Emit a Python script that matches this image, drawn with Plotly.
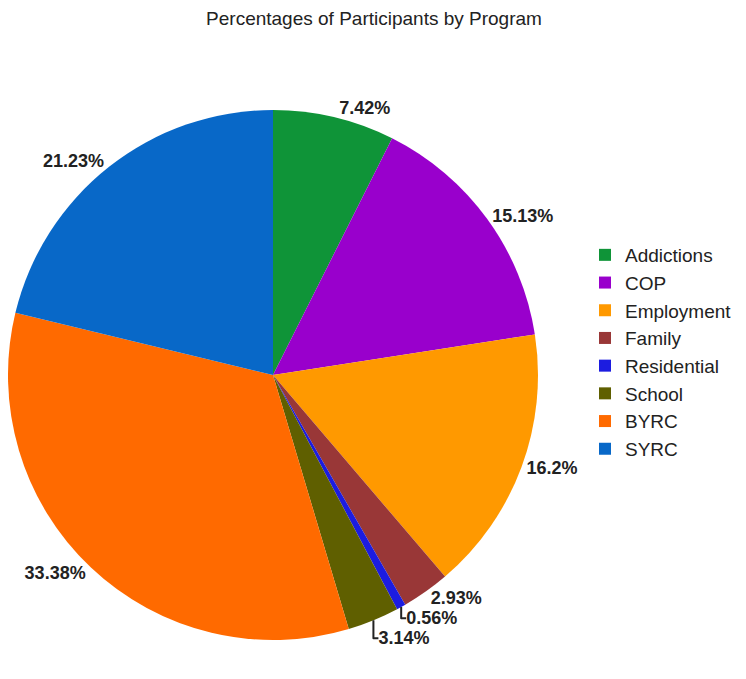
import plotly.graph_objects as go

# data
programs = ["Addictions", "COP", "Employment", "Family", "Residential", "School", "BYRC", "SYRC"]
percentages = [7.42, 15.13, 16.2, 2.93, 0.56, 3.14, 33.38, 21.23]
colors = ["#0f9438", "#9900cc", "#ff9900", "#993737", "#1c1ce0", "#5f5f00", "#ff6a00", "#0868c8"]

W, H = 746, 679
cx, cy, r = 265, 367, 265  # pie domain centre / radius in pixels

fig = go.Figure(go.Pie(
    labels=programs,
    values=percentages,
    text=[f"{p}%" for p in percentages],
    texttemplate="<b>%{text}</b>",
    textposition="outside",
    textfont=dict(size=18, color="#222222", family="Liberation Sans, Arial, sans-serif"),
    marker=dict(colors=colors, line=dict(width=0)),
    sort=False,
    direction="clockwise",
    rotation=0,
    automargin=False,
    domain=dict(x=[max(0, (cx - r) / W), (cx + r) / W], y=[(H - cy - r) / H, (H - cy + r) / H]),
))

fig.update_layout(
    width=W, height=H,
    margin=dict(l=0, r=0, t=0, b=0),
    paper_bgcolor="white",
    font=dict(family="Liberation Sans, Arial, sans-serif", color="#222222"),
    title=dict(text="Percentages of Participants by Program", x=366 / W, xanchor="center",
               y=1 - 10 / H, yanchor="middle", font=dict(size=19, color="#222222")),
    legend=dict(x=577 / W, xanchor="left", y=1 - 344 / H, yanchor="middle",
                font=dict(size=19, color="#222222"), bgcolor="rgba(0,0,0,0)"),
    showlegend=True,
)

fig.write_html("out.html")
